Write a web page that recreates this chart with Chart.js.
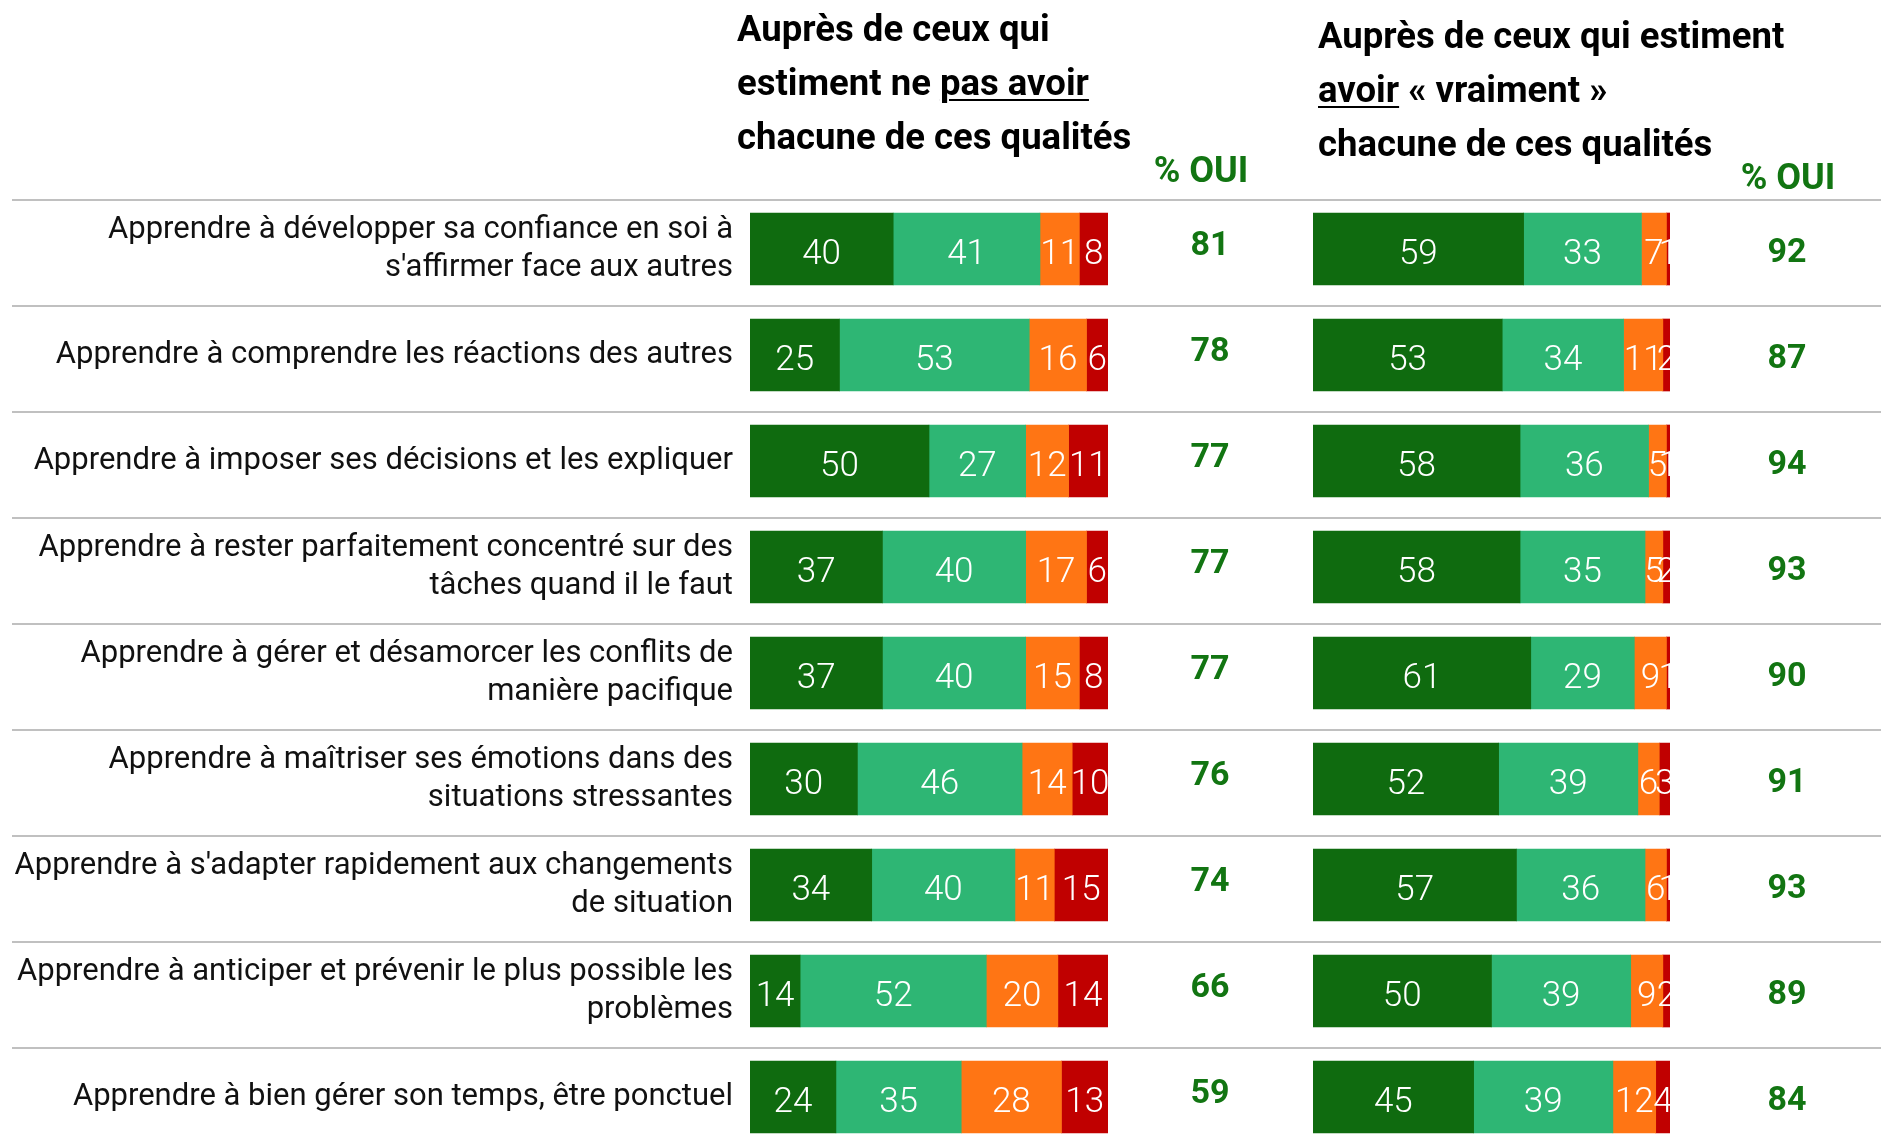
<!DOCTYPE html>
<html lang="fr">
<head>
<meta charset="utf-8">
<title>Qualités - % OUI</title>
<script src="https://cdn.jsdelivr.net/npm/chart.js@4.4.1/dist/chart.umd.min.js"></script>
<style>
  html, body { margin: 0; padding: 0; background: #fff; }
  body { width: 1881px; height: 1142px; overflow: hidden; position: relative; font-family: Roboto, "Noto Sans", sans-serif; }
  #leftChart { position: absolute; left: 0; top: 0; }
  #rightChart { position: absolute; left: 1300px; top: 0; }
  .head { position: absolute; font-weight: 700; font-size: 36.5px; line-height: 54px; color: #000; white-space: nowrap; }
  .head u { text-decoration-thickness: 2px; text-underline-offset: 4px; }
  .oui { position: absolute; font-weight: 700; font-size: 36px; color: #127512; white-space: nowrap; transform: translateX(-50%); }
</style>
</head>
<body>
<canvas id="leftChart" width="1300" height="1160"></canvas>
<canvas id="rightChart" width="581" height="1160"></canvas>

<div class="head" style="left:737px; top:2px;">Auprès de ceux qui<br>estiment ne <u>pas avoir</u><br>chacune de ces qualités</div>
<div class="head" style="left:1318px; top:9px;">Auprès de ceux qui estiment<br><u>avoir</u> « vraiment »<br>chacune de ces qualités</div>
<div class="oui" style="left:1201px; top:149px;">% OUI</div>
<div class="oui" style="left:1788px; top:156px;">% OUI</div>

<script>
// categories (multi-line labels as in the original)
const categories = [
    ["Apprendre à développer sa confiance en soi à", "s'affirmer face aux autres"],
    "Apprendre à comprendre les réactions des autres",
    "Apprendre à imposer ses décisions et les expliquer",
    ["Apprendre à rester parfaitement concentré sur des", "tâches quand il le faut"],
    ["Apprendre à gérer et désamorcer les conflits de", "manière pacifique"],
    ["Apprendre à maîtriser ses émotions dans des", "situations stressantes"],
    ["Apprendre à s'adapter rapidement aux changements", "de situation"],
    ["Apprendre à anticiper et prévenir le plus possible les", "problèmes"],
    "Apprendre à bien gérer son temps, être ponctuel"
];

// left block : ceux qui estiment ne pas avoir ces qualités
const leftOuiTout = [40, 25, 50, 37, 37, 30, 34, 14, 24];
const leftOuiPlutot = [41, 53, 27, 40, 40, 46, 40, 52, 35];
const leftNonPlutot = [11, 16, 12, 17, 15, 14, 11, 20, 28];
const leftNonTout = [8, 6, 11, 6, 8, 10, 15, 14, 13];
const leftOui = [81, 78, 77, 77, 77, 76, 74, 66, 59];

// right block : ceux qui estiment avoir vraiment ces qualités
const rightOuiTout = [59, 53, 58, 58, 61, 52, 57, 50, 45];
const rightOuiPlutot = [33, 34, 36, 35, 29, 39, 36, 39, 39];
const rightNonPlutot = [7, 11, 5, 5, 9, 6, 6, 9, 12];
const rightNonTout = [1, 2, 1, 2, 1, 3, 1, 2, 4];
const rightOui = [92, 87, 94, 93, 90, 91, 93, 89, 84];

const colors = ["#0f6b0f", "#2eb674", "#ff7514", "#c00000"];

function makeDatasets(series) {
    return series.map((values, i) => ({
        data: values,
        backgroundColor: colors[i],
        borderWidth: 0,
        barThickness: 72
    }));
}

// separators, values inside bars and the % OUI column
function rowPlugin(ouiValues, ouiX, ouiDy, lineStartX) {
    return {
        id: 'rows',
        beforeDatasetsDraw(chart) {
            const ctx = chart.ctx;
            const yScale = chart.scales.y;
            ctx.save();
            ctx.strokeStyle = "#c0c0c0";
            ctx.lineWidth = 2;
            for (let i = 0; i < chart.data.labels.length; i++) {
                const y = Math.round(yScale.getPixelForValue(i) - 49);
                ctx.beginPath();
                ctx.moveTo(lineStartX, y);
                ctx.lineTo(chart.width, y);
                ctx.stroke();
            }
            ctx.restore();
        },
        afterDatasetsDraw(chart) {
            const ctx = chart.ctx;
            const area = chart.chartArea;
            ctx.save();
            ctx.beginPath();
            ctx.rect(area.left, area.top, area.right - area.left, area.bottom - area.top);
            ctx.clip();
            ctx.fillStyle = "#fff";
            ctx.font = "300 35px Roboto";
            ctx.textAlign = "center";
            ctx.textBaseline = "middle";
            chart.data.datasets.forEach((ds, di) => {
                const meta = chart.getDatasetMeta(di);
                meta.data.forEach((bar, i) => {
                    ctx.fillText(String(ds.data[i]), (bar.x + bar.base) / 2, bar.y + 6);
                });
            });
            ctx.restore();

            ctx.save();
            ctx.fillStyle = "#127512";
            ctx.font = "bold 34px Roboto";
            ctx.textAlign = "center";
            ctx.textBaseline = "middle";
            const yScale = chart.scales.y;
            ouiValues.forEach((v, i) => {
                ctx.fillText(String(v), ouiX, yScale.getPixelForValue(i) + ouiDy);
            });
            ctx.restore();
        }
    };
}

const commonOptions = (padLeft, padRight, showLabels) => ({
    indexAxis: 'y',
    responsive: false,
    animation: false,
    layout: { padding: { left: padLeft, right: padRight, top: 196, bottom: 10 } },
    scales: {
        x: { stacked: true, min: 0, max: 100, display: false },
        y: {
            stacked: true,
            display: showLabels,
            grid: { display: false },
            border: { display: false },
            afterFit: (scale) => {
                scale.paddingTop = 0;
                scale.paddingBottom = 0;
                if (showLabels) scale.width = 750;
            },
            ticks: {
                color: "#111",
                padding: 9,
                font: { family: "Roboto", size: 31, lineHeight: 1.24 }
            }
        }
    },
    plugins: { legend: { display: false }, tooltip: { enabled: false } }
});

new Chart(document.getElementById('leftChart'), {
    type: 'bar',
    data: {
        labels: categories,
        datasets: makeDatasets([leftOuiTout, leftOuiPlutot, leftNonPlutot, leftNonTout])
    },
    options: commonOptions(0, 192, true),
    plugins: [rowPlugin(leftOui, 1210, -3, 12)]
});

new Chart(document.getElementById('rightChart'), {
    type: 'bar',
    data: {
        labels: categories,
        datasets: makeDatasets([rightOuiTout, rightOuiPlutot, rightNonPlutot, rightNonTout])
    },
    options: commonOptions(13, 211, false),
    plugins: [rowPlugin(rightOui, 487, 4, 0)]
});
</script>
</body>
</html>
